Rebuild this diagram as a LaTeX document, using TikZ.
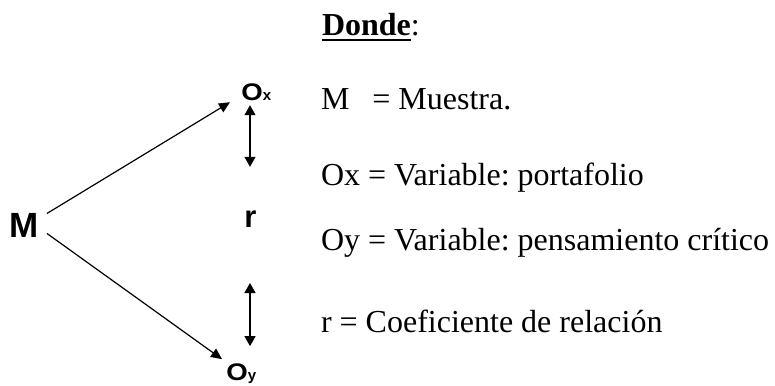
\documentclass[tikz,border=0pt]{standalone}
\usepackage{fontspec}
\setmainfont{Liberation Serif}
\newfontfamily\arialfont{Liberation Sans}
\usetikzlibrary{arrows.meta}
\begin{document}
\frenchspacing
\begin{tikzpicture}[x=1pt,y=-1pt,
  lbl/.style={inner sep=0pt,outer sep=0pt,anchor=base west},
  txt/.style={inner sep=0pt,outer sep=0pt,anchor=base west,font=\fontsize{32}{36}\selectfont},
  arr/.style={line width=1.2pt,-{Triangle[length=11pt,width=10pt]}},
  dbl/.style={line width=1.2pt,{Triangle[length=10pt,width=11pt]}-{Triangle[length=10pt,width=11pt]}}]
\useasboundingbox (0,0) rectangle (775,385);
% left diagram
\node[lbl,font=\arialfont\bfseries\fontsize{35}{38}\selectfont] (M) at (9.7,237.3) {M};
\node[lbl,font=\arialfont\bfseries\fontsize{24}{28}\selectfont] (Ox) at (241.3,101) {\scalebox{1.15}[1]{O}{\fontsize{15}{17}\selectfont x}};
\node[lbl,font=\arialfont\bfseries\fontsize{24}{28}\selectfont] (Oy) at (226.3,380.5) {\scalebox{1.15}[1]{O}{\fontsize{15}{17}\selectfont y}};
\node[lbl,anchor=base,font=\arialfont\bfseries\fontsize{31}{34}\selectfont] (r) at (250.5,227) {r};
\draw[arr] ([shift={(8.1,-11.8)}]M.east) -- ([shift={(-11.3,1)}]Ox.south west);
\draw[arr] ([shift={(8.1,8.2)}]M.east) -- ([shift={(-4.3,-4.6)}]Oy.north west);
\draw[dbl] ([shift={(8.7,4)}]Ox.south west) -- ([shift={(-0.5,-43.5)}]r.north);
\draw[dbl] ([shift={(-0.5,56)}]r.south) -- ([shift={(23.7,-17.6)}]Oy.north west);
% legend
\node[txt,font=\bfseries\fontsize{32}{36}\selectfont] (donde) at (322,36) {Donde};
\node[txt] (colon) at (donde.base east) {:};
\draw[line width=2.5pt] ([yshift=-4pt]donde.base west) -- ([yshift=-4pt]donde.base east);
\node[txt] (t1) at (321,109.5) {M\hspace{23pt}= Muestra.};
\node[txt] (t2) at (321,185) {Ox = Variable: portafolio};
\node[txt] (t3) at (321,250) {Oy = Variable: pensamiento crítico};
\node[txt] (t4) at (321,332) {r = Coeficiente de relación};
\end{tikzpicture}
\end{document}
